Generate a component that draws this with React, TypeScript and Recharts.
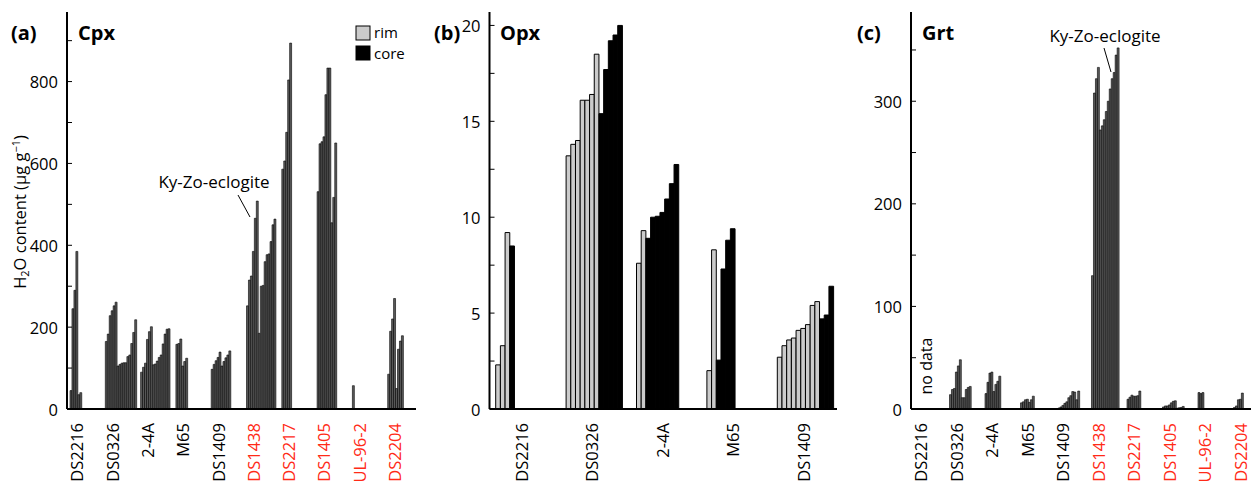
import React from 'react';
import { BarChart, Bar, XAxis, YAxis, Cell } from 'recharts';

// sample order along the x axis
const SAMPLES = ['DS2216', 'DS0326', '2-4A', 'M65', 'DS1409', 'DS1438', 'DS2217', 'DS1405', 'UL-96-2', 'DS2204'];
const OPX_SAMPLES = ['DS2216', 'DS0326', '2-4A', 'M65', 'DS1409'];
const RED_SAMPLES = ['DS1438', 'DS2217', 'DS1405', 'UL-96-2', 'DS2204'];

// Cpx H2O (ug/g), one list per sample
const CPX_VALUES = [
  [45, 245, 290, 385, 35, 40],
  [165, 183, 228, 240, 252, 261, 105, 109, 112, 113, 113, 128, 132, 160, 187, 218],
  [90, 102, 112, 170, 189, 201, 108, 110, 117, 126, 132, 159, 183, 195, 196],
  [158, 160, 171, 105, 116, 124],
  [97, 109, 118, 126, 139, 105, 116, 125, 132, 142],
  [252, 315, 325, 385, 466, 508, 185, 300, 302, 360, 377, 379, 409, 450, 464],
  [586, 606, 676, 804, 894],
  [531, 648, 653, 665, 768, 833, 833, 455, 517, 650],
  [57],
  [85, 190, 220, 270, 50, 146, 166, 179],
];

// Opx H2O (ug/g), rims then cores
const OPX_RIM = [
  [2.3, 3.3, 9.2],
  [13.2, 13.8, 14.0, 16.1, 16.1, 16.4, 18.5],
  [7.6, 9.3],
  [2.0, 8.3],
  [2.7, 3.3, 3.6, 3.7, 4.1, 4.2, 4.4, 5.4, 5.6],
];
const OPX_CORE = [
  [8.5],
  [15.4, 17.7, 19.2, 19.5, 20.0],
  [8.9, 10.0, 10.05, 10.25, 10.95, 11.75, 12.75],
  [2.55, 7.3, 8.8, 9.4],
  [4.7, 4.9, 6.4],
];

// Grt H2O (ug/g)
const GRT_VALUES = [
  [],
  [14, 19, 20, 36, 42, 48, 11, 11, 19, 21, 22],
  [15, 26, 35, 36, 17, 24, 27, 32],
  [6, 7, 9, 9.5, 6.5, 9, 12.5],
  [0.5, 1, 2, 3.5, 5.5, 7, 11, 13, 17, 16.5, 9, 17.5],
  [130, 308, 322, 333, 272, 276, 282, 290, 300, 312, 322, 328, 345, 352],
  [9.5, 11.5, 13.5, 12.5, 12.5, 13, 17.5],
  [2, 3, 3, 4, 6, 7.5, 8, 0.8, 1.2, 1.5, 2.5],
  [16, 15, 16],
  [1.5, 3, 9, 9.5, 15.5],
];

const CPX_TICKS = [0, 100, 200, 300, 400, 500, 600, 700, 800, 900];
const CPX_LABELS = [0, 200, 400, 600, 800];
const OPX_TICKS = [0, 2.5, 5, 7.5, 10, 12.5, 15, 17.5, 20];
const OPX_LABELS = [0, 5, 10, 15, 20];
const GRT_TICKS = [0, 50, 100, 150, 200, 250, 300, 350];
const GRT_LABELS = [0, 100, 200, 300];

const FONT = '"Open Sans", "Noto Sans", sans-serif';
const RED = '#ff2a17';
const H = 483;
const TOP = 12;
const BOTTOM = 409;
const XH = 70;
const YW = 60;

type Kind = 'rim' | 'core' | 'all';
type Row = { slot: string; v: number | null; kind: Kind };

function buildRows(prefix: string, names: string[], groups: { v: number; kind: Kind }[][], per: number, total: number, labelAt: number) {
  const rows: Row[] = [];
  for (let i = 0; i < total; i++) rows.push({ slot: prefix + i, v: null, kind: 'all' });
  const ticks: string[] = [];
  const labelOf: Record<string, string> = {};
  groups.forEach((g, gi) => {
    const start = gi * per;
    g.forEach((p, j) => {
      if (start + j < total) {
        rows[start + j].v = p.v;
        rows[start + j].kind = p.kind;
      }
    });
    const key = prefix + Math.min(start + labelAt, total - 1);
    ticks.push(key);
    labelOf[key] = names[gi];
  });
  return { rows, ticks, labelOf };
}

const cpxData = buildRows('a', SAMPLES, CPX_VALUES.map((g) => g.map((v) => ({ v, kind: 'all' as Kind }))), 18, 176, 3);
const opxData = buildRows(
  'b',
  OPX_SAMPLES,
  OPX_RIM.map((r, i) => [...r.map((v) => ({ v, kind: 'rim' as Kind })), ...OPX_CORE[i].map((v) => ({ v, kind: 'core' as Kind }))]),
  15,
  72,
  5,
);
const grtData = buildRows('c', SAMPLES, GRT_VALUES.map((g) => g.map((v) => ({ v, kind: 'all' as Kind }))), 18, 170, 3);

const XTick = (props: any) => {
  const { x, y, payload, labelOf } = props;
  const name = labelOf[payload.value];
  return (
    <text
      x={x}
      y={y}
      transform={`rotate(-90 ${x} ${y})`}
      textAnchor="end"
      dominantBaseline="central"
      fontSize={16.5}
      fontFamily={FONT}
      fill={RED_SAMPLES.includes(name) ? RED : '#000'}
    >
      {name}
    </text>
  );
};

const YTickLeft = (props: any) => {
  const { x, y, payload, major } = props;
  const ax = x + 8;
  return (
    <g>
      <line x1={ax} x2={ax + 5} y1={y} y2={y} stroke="#000" strokeWidth={1} />
      {major.includes(payload.value) && (
        <text x={x - 1} y={y} textAnchor="end" dominantBaseline="central" fontSize={16.5} fontFamily={FONT} fill="#000">
          {payload.value}
        </text>
      )}
    </g>
  );
};

const YTickRight = (props: any) => {
  const { x, y } = props;
  return <line x1={x - 5} x2={x} y1={y} y2={y} stroke="#000" strokeWidth={1} />;
};

interface PanelCfg {
  left: number;
  width: number;
  plotL: number;
  plotR: number;
  padL: number;
  pitch: number;
  total: number;
  max: number;
  ticks: number[];
  major: number[];
  strokeW: number;
}

function Panel({ cfg, data }: { cfg: PanelCfg; data: ReturnType<typeof buildRows> }) {
  const plotW = cfg.plotR - cfg.plotL;
  const padR = plotW - cfg.padL - cfg.total * cfg.pitch;
  const fillOf = (k: Kind) => (k === 'rim' ? '#cbcbcb' : k === 'core' ? '#000' : '#5c5c5c');
  return (
    <div style={{ position: 'absolute', left: cfg.left, top: 0 }}>
      <BarChart
        width={cfg.width}
        height={H}
        data={data.rows}
        margin={{ top: TOP, right: cfg.left + cfg.width - cfg.plotR, bottom: H - BOTTOM - XH, left: cfg.plotL - cfg.left - YW }}
        barCategoryGap={0}
        barGap={0}
      >
        <XAxis
          dataKey="slot"
          type="category"
          ticks={data.ticks}
          interval={0}
          tickLine={false}
          tickSize={0}
          tickMargin={14}
          height={XH}
          padding={{ left: cfg.padL, right: padR }}
          axisLine={{ stroke: '#000', strokeWidth: 2 }}
          tick={<XTick labelOf={data.labelOf} />}
        />
        <XAxis xAxisId="top" orientation="top" dataKey="slot" height={0} tick={false} tickLine={false} axisLine={{ stroke: '#000', strokeWidth: 1.5 }} />
        <YAxis
          type="number"
          domain={[0, cfg.max]}
          ticks={cfg.ticks}
          interval={0}
          width={YW}
          tickLine={false}
          tickSize={0}
          tickMargin={8}
          allowDataOverflow
          axisLine={{ stroke: '#000', strokeWidth: 2 }}
          tick={<YTickLeft major={cfg.major} />}
        />
        <YAxis
          yAxisId="r"
          orientation="right"
          type="number"
          domain={[0, cfg.max]}
          ticks={cfg.ticks}
          interval={0}
          width={0}
          tickLine={false}
          tickSize={0}
          tickMargin={0}
          allowDataOverflow
          axisLine={{ stroke: '#000', strokeWidth: 1.5 }}
          tick={<YTickRight />}
        />
        <Bar dataKey="v" isAnimationActive={false} barSize={cfg.pitch * 0.999} stroke="#000" strokeWidth={cfg.strokeW}>
          {data.rows.map((r, i) => (
            <Cell key={i} fill={fillOf(r.kind)} />
          ))}
        </Bar>
      </BarChart>
    </div>
  );
}

const CPX_CFG: PanelCfg = { left: 0, width: 420, plotL: 67, plotR: 416, padL: 3, pitch: 35.3 / 18, total: 176, max: 970, ticks: CPX_TICKS, major: CPX_LABELS, strokeW: 0.6 };
const OPX_CFG: PanelCfg = { left: 420, width: 420, plotL: 489.5, plotR: 837, padL: 6.2, pitch: 70.4 / 15, total: 72, max: 20.7, ticks: OPX_TICKS, major: OPX_LABELS, strokeW: 1 };
const GRT_CFG: PanelCfg = { left: 840, width: 413, plotL: 911, plotR: 1251, padL: 3, pitch: 35.5 / 18, total: 170, max: 387, ticks: GRT_TICKS, major: GRT_LABELS, strokeW: 0.6 };

export default function App() {
  const t = { fontFamily: FONT, fill: '#000' };
  return (
    <div style={{ position: 'absolute', left: 0, top: 0, width: 1253, height: H, background: '#fff', overflow: 'hidden' }}>
      <Panel cfg={CPX_CFG} data={cpxData} />
      <Panel cfg={OPX_CFG} data={opxData} />
      <Panel cfg={GRT_CFG} data={grtData} />
      <svg width={1253} height={H} style={{ position: 'absolute', left: 0, top: 0, pointerEvents: 'none' }}>
        <g {...t} fontWeight="bold" fontSize={20}>
          <text x={11} y={40}>(a)</text>
          <text x={78} y={40}>Cpx</text>
          <text x={434} y={40}>(b)</text>
          <text x={500} y={40}>Opx</text>
          <text x={857} y={40}>(c)</text>
          <text x={922} y={40}>Grt</text>
        </g>
        <text {...t} fontSize={16.5} transform="rotate(-90)" x={-212} y={26} textAnchor="middle">
          H<tspan fontSize={11} dy={3}>2</tspan>
          <tspan dy={-3}>O content (µg g</tspan>
          <tspan fontSize={11} dy={-6}>−1</tspan>
          <tspan dy={6}>)</tspan>
        </text>
        <rect x={356} y={26} width={14} height={14} fill="#cbcbcb" stroke="#000" strokeWidth={1} />
        <text {...t} fontSize={15} x={374} y={38}>rim</text>
        <rect x={356} y={46} width={14} height={14} fill="#000" stroke="#000" strokeWidth={1} />
        <text {...t} fontSize={15} x={374} y={59}>core</text>
        <text {...t} fontSize={17} x={214} y={188} textAnchor="middle">Ky-Zo-eclogite</text>
        <line x1={238} y1={195} x2={250} y2={217} stroke="#000" strokeWidth={1} />
        <text {...t} fontSize={17} x={1105} y={42} textAnchor="middle">Ky-Zo-eclogite</text>
        <line x1={1104} y1={48} x2={1111} y2={72} stroke="#000" strokeWidth={1} />
        <text {...t} fontSize={16} transform="rotate(-90 926 366)" x={926} y={366} textAnchor="middle" dominantBaseline="central">no data</text>
      </svg>
    </div>
  );
}
